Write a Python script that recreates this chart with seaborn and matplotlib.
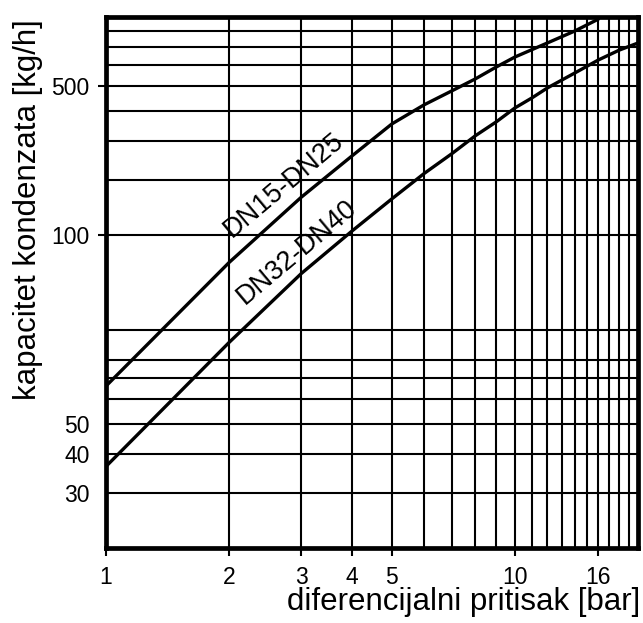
import matplotlib
matplotlib.use("Agg")
import matplotlib.pyplot as plt
import seaborn as sns
from matplotlib.ticker import NullFormatter

# curve readings (differential pressure [bar] -> condensate capacity [kg/h])
dn15_x = [1, 2, 3, 4, 5, 6, 7, 8, 9, 10, 12, 14, 16]
dn15_y = [66, 164, 265, 360, 455, 524, 580, 634, 692, 745, 826, 902, 985]
dn32_x = [1, 2, 3, 4, 5, 6, 7, 8, 9, 10, 11, 12, 14, 16, 18, 20]
dn32_y = [36.5, 91, 151, 207, 262, 316, 365, 417, 462, 512, 551, 593, 662, 729, 784, 826]

# axis grid and labels as drawn on the chart
x_grid = list(range(1, 21))
y_grid = [30, 40, 50, 60, 70, 80, 100, 200, 300, 400, 500, 600, 700, 800, 900]
x_ticks = [1, 2, 3, 4, 5, 10, 16]
x_labels = ["1", "2", "3", "4", "5", "10", "16"]
y_ticks = [30, 40, 50, 200, 600]
y_labels = ["30", "40", "50", "100", "500"]

sns.set_style("white")
plt.rcParams["font.family"] = ["Liberation Sans", "DejaVu Sans"]
plt.rcParams["text.color"] = "black"
plt.rcParams["axes.labelcolor"] = "black"
plt.rcParams["xtick.color"] = "black"
plt.rcParams["ytick.color"] = "black"

fig = plt.figure(figsize=(6.43, 6.23), dpi=100)
ax = fig.add_axes([0.165, 0.1204, 0.8274, 0.8523])

sns.lineplot(x=dn15_x, y=dn15_y, color="black", lw=2.4, sort=False, estimator=None, ax=ax, zorder=3)
sns.lineplot(x=dn32_x, y=dn32_y, color="black", lw=2.4, sort=False, estimator=None, ax=ax, zorder=3)

ax.set_xscale("log")
ax.set_yscale("log")
ax.set_xlim(1, 20)
ax.set_ylim(20, 1000)

ax.set_xticks(x_grid, minor=True)
ax.set_yticks(y_grid, minor=True)
ax.xaxis.set_minor_formatter(NullFormatter())
ax.yaxis.set_minor_formatter(NullFormatter())
ax.set_xticks(x_ticks)
ax.set_xticklabels(x_labels)
ax.set_yticks(y_ticks)
ax.set_yticklabels(y_labels)
ax.tick_params(which="minor", length=0)
ax.tick_params(which="major", direction="out", length=6, width=1.5, color="black",
               labelcolor="black", labelsize=16.5, left=True, bottom=True)
ax.tick_params(axis="x", pad=7)
ax.tick_params(axis="y", pad=6)
for t in ax.yaxis.get_major_ticks()[:3]:
    t.tick1line.set_markersize(0)

ax.grid(which="both", color="black", lw=1.5)
ax.set_axisbelow(True)
for s in ax.spines.values():
    s.set_linewidth(3.4)
    s.set_color("black")
    s.set_zorder(4)

ax.text(2.72, 290, "DN15-DN25", rotation=40, rotation_mode="anchor",
        ha="center", va="center", fontsize=19.5, color="black", zorder=5)
ax.text(2.93, 177, "DN32-DN40", rotation=40, rotation_mode="anchor",
        ha="center", va="center", fontsize=19.5, color="black", zorder=5)

ax.set_ylabel("kapacitet kondenzata [kg/h]", fontsize=22.5, color="black")
ax.yaxis.set_label_coords(-0.1466, 0.638)
ax.yaxis.label.set_va("center")
ax.set_xlabel("diferencijalni pritisak [bar]", fontsize=22.5, color="black")
ax.xaxis.set_label_coords(1.004, -0.1017)
ax.xaxis.label.set_ha("right")
ax.xaxis.label.set_va("center")

fig.savefig("out.png", dpi=100)
